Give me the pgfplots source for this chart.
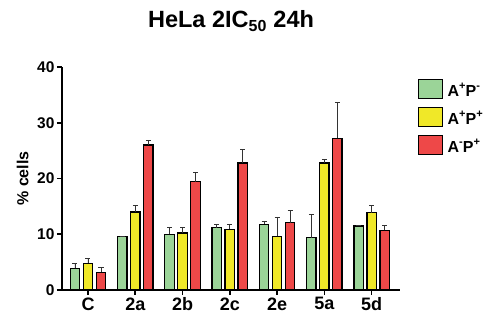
\documentclass[border=0pt]{standalone}
\usepackage{pgfplots}
\pgfplotsset{compat=1.18}
\usepackage{fontspec}
\setmainfont{Liberation Sans}
\definecolor{cgreen}{RGB}{155,212,152}
\definecolor{cyellow}{RGB}{240,232,40}
\definecolor{cred}{RGB}{238,72,72}
\newcommand{\sps}[1]{\raisebox{0.45em}{\fontsize{11}{11}\selectfont #1}}
\begin{document}
\begin{tikzpicture}
\path[use as bounding box] (-62pt,-25pt) rectangle (439pt,290pt);
\begin{axis}[
  scale only axis, width=338pt, height=223pt,
  at={(0pt,0pt)}, anchor=south west,
  xmin=-0.55, xmax=6.6, ymin=0, ymax=40,
  axis x line*=bottom, axis y line*=left,
  axis line style={line width=1.6pt},
  xtick={0,1,2,3,4,5,6},
  xticklabels={C,2a,2b,2c,2e,5a,5d},
  ytick={0,10,20,30,40},
  yticklabels={0,10,20,30,40},
  tick align=outside,
  major tick length=5pt,
  tick style={line width=1.6pt,black},
  yticklabel style={font=\bfseries\fontsize{15.5}{15.5}\selectfont, xshift=1pt},
  xticklabel style={font=\bfseries\fontsize{18}{18}\selectfont, yshift=1pt},
  ylabel={\% cells},
  ylabel style={font=\bfseries\fontsize{16}{16}\selectfont, at={(axis description cs:0,0.5)}, anchor=south, yshift=30pt},
  title={HeLa 2IC\textsubscript{\fontsize{16}{16}\selectfont 50} 24h},
  title style={font=\bfseries\fontsize{23.5}{23.5}\selectfont, at={(axis description cs:0.5,1)}, anchor=base, yshift=33pt},
  ybar, bar width=9.5pt,
  every axis plot/.append style={draw=black, line width=1.3pt},
  error bars/y dir=plus, error bars/y explicit,
  error bars/error bar style={line width=0.8pt, black!80},
  error bars/error mark options={rotate=90, mark size=2.5pt, line width=0.8pt, black!80},
  legend style={draw=none, fill=none, at={(axis cs:6.97,38.3)}, anchor=north west,
    font=\bfseries\fontsize{16}{16}\selectfont, row sep=7pt, inner xsep=0pt},
  legend cell align=left,
  legend image code/.code={\draw[#1, line width=1.3pt] (0pt,-8pt) rectangle (24pt,11pt);},
  clip=false,
]
\addplot[fill=cgreen, bar shift=-13pt] coordinates {
 (0,3.9) +- (0,0.8)
 (1,9.6) +- (0,0)
 (2,10.0) +- (0,1.2)
 (3,11.2) +- (0,0.6)
 (4,11.8) +- (0,0.5)
 (5,9.4) +- (0,4.2)
 (6,11.5) +- (0,0)
};
\addplot[fill=cyellow, bar shift=0pt] coordinates {
 (0,4.8) +- (0,0.9)
 (1,14.0) +- (0,1.1)
 (2,10.2) +- (0,1.0)
 (3,10.9) +- (0,0.8)
 (4,9.6) +- (0,3.5)
 (5,22.8) +- (0,0.6)
 (6,13.9) +- (0,1.2)
};
\addplot[fill=cred, bar shift=13pt] coordinates {
 (0,3.2) +- (0,0.8)
 (1,26.0) +- (0,0.9)
 (2,19.4) +- (0,1.7)
 (3,22.8) +- (0,2.4)
 (4,12.1) +- (0,2.1)
 (5,27.2) +- (0,6.4)
 (6,10.7) +- (0,0.8)
};
\legend{\,A\sps{+}P\sps{-},\,A\sps{+}P\sps{+},\,A\sps{-}P\sps{+}}
\end{axis}
\end{tikzpicture}
\end{document}
